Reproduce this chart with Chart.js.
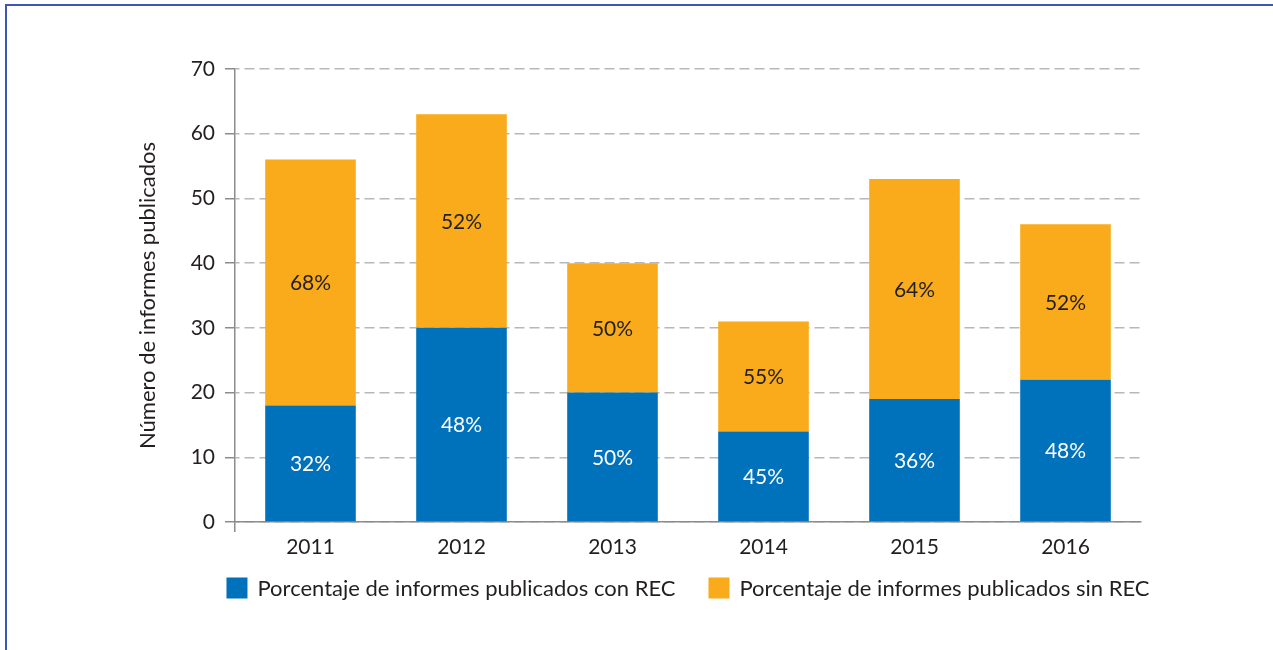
<!DOCTYPE html>
<html>
<head>
<meta charset="utf-8">
<script src="https://cdn.jsdelivr.net/npm/chart.js@4/dist/chart.umd.min.js"></script>
<style>
html, body { margin: 0; padding: 0; background: #fff; overflow: hidden; }
#frame { position: absolute; left: 5px; top: 4px; width: 1400px; height: 800px;
         border-top: 2px solid #3d58b3; border-left: 2px solid #3d58b3; }
#wrap { position: absolute; left: 0; top: 0; }
</style>
</head>
<body>
<div id="frame"></div>
<div id="wrap"><canvas id="chart" width="1273" height="650"></canvas></div>
<script>
// values
const years = ['2011', '2012', '2013', '2014', '2015', '2016'];
const conRec = [18, 30, 20, 14, 19, 22];   // informes con REC
const sinRec = [38, 33, 20, 17, 34, 24];   // informes sin REC
const pctCon = ['32%', '48%', '50%', '45%', '36%', '48%'];
const pctSin = ['68%', '52%', '50%', '55%', '64%', '52%'];
const yMax = 70;
const yStep = 10;

const textColor = '#231f20';
Chart.defaults.font.family = 'Lato';
Chart.defaults.color = textColor;

// percentage written in the middle of each segment
const barLabels = {
    id: 'barLabels',
    afterDatasetsDraw(chart) {
        const ctx = chart.ctx;
        ctx.save();
        ctx.font = '21px Lato';
        ctx.textAlign = 'center';
        ctx.textBaseline = 'middle';
        chart.data.datasets.forEach((ds, i) => {
            ctx.fillStyle = ds.labelColor;
            chart.getDatasetMeta(i).data.forEach((bar, j) => {
                const p = bar.getProps(['x', 'y', 'base'], true);
                ctx.fillText(ds.pct[j], p.x, (p.y + p.base) / 2 + 1);
            });
        });
        ctx.restore();
    }
};

// legend row under the plot, centred on the chart area
const bottomLegend = {
    id: 'bottomLegend',
    afterDraw(chart, args, opts) {
        const { ctx, chartArea } = chart;
        ctx.save();
        ctx.font = opts.font;
        ctx.textBaseline = 'middle';
        const items = chart.data.datasets.map(ds => ({
            text: ds.label,
            color: ds.backgroundColor,
            w: opts.box + opts.gap + ctx.measureText(ds.label).width
        }));
        const total = items.reduce((s, it) => s + it.w, 0) + opts.spacing * (items.length - 1);
        let x = (chartArea.left + chartArea.right) / 2 - total / 2;
        const y = chartArea.bottom + opts.offset;
        items.forEach(it => {
            ctx.fillStyle = it.color;
            ctx.fillRect(x, y - opts.box / 2, opts.box, opts.box);
            ctx.fillStyle = opts.color;
            ctx.fillText(it.text, x + opts.box + opts.gap, y + 1);
            x += it.w + opts.spacing;
        });
        ctx.restore();
    }
};

new Chart(document.getElementById('chart'), {
    type: 'bar',
    data: {
        labels: years,
        datasets: [{
            label: 'Porcentaje de informes publicados con REC',
            data: conRec,
            pct: pctCon,
            labelColor: '#ffffff',
            backgroundColor: '#0071bb',
            stack: 'a'
        }, {
            label: 'Porcentaje de informes publicados sin REC',
            data: sinRec,
            pct: pctSin,
            labelColor: textColor,
            backgroundColor: '#f9ab1b',
            stack: 'a'
        }]
    },
    options: {
        responsive: false,
        animation: false,
        layout: { padding: { top: 69, left: 132, right: 132, bottom: 88 } },
        datasets: { bar: { categoryPercentage: 1, barPercentage: 0.6 } },
        plugins: {
            tooltip: { enabled: false },
            legend: { display: false },
            bottomLegend: { font: '22px Lato', box: 21, gap: 10, spacing: 33, offset: 66, color: textColor }
        },
        scales: {
            x: {
                stacked: true,
                grid: {
                    drawOnChartArea: false,
                    tickLength: 10,
                    lineWidth: 1.5,
                    color: c => c.index === 0 ? '#8c8c8c' : 'transparent'
                },
                border: { color: '#8c8c8c', width: 1.5 },
                ticks: { padding: 3, font: { size: 21 }, color: textColor },
                afterFit(s) { s.height = 40; }
            },
            y: {
                stacked: true,
                min: 0,
                max: yMax,
                grid: {
                    color: '#b8b8b8',
                    lineWidth: 1.5,
                    tickLength: 10,
                    tickColor: '#8c8c8c',
                    tickWidth: 1.5
                },
                border: { color: '#8c8c8c', width: 1.5, dash: [10, 5], dashOffset: 6 },
                ticks: { stepSize: yStep, padding: 10, font: { size: 21 }, color: textColor },
                title: {
                    display: true,
                    text: 'Número de informes publicados',
                    font: { size: 22 },
                    color: textColor,
                    padding: { top: 3, bottom: 0 }
                },
                afterFit(s) { s.width = 103; }
            }
        }
    },
    plugins: [barLabels, bottomLegend]
});
</script>
</body>
</html>
